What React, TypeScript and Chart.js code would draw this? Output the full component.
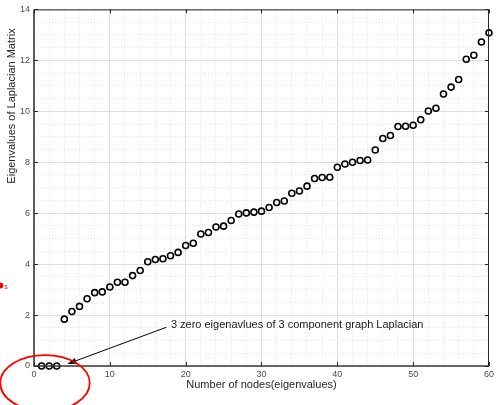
import React, { useEffect, useRef } from 'react';
import { Chart, registerables } from 'chart.js';

Chart.register(...registerables);

// ---- data ----
const nodeIndex: number[] = Array.from({ length: 60 }, (_, i) => i + 1);
const eigenvalues: number[] = [
  0, 0, 0, 1.84, 2.14, 2.34, 2.64, 2.88, 2.91, 3.1,
  3.29, 3.29, 3.55, 3.75, 4.09, 4.18, 4.21, 4.33, 4.46, 4.73,
  4.82, 5.18, 5.24, 5.46, 5.49, 5.71, 5.97, 6.01, 6.04, 6.08,
  6.22, 6.42, 6.48, 6.78, 6.87, 7.06, 7.36, 7.4, 7.41, 7.8,
  7.93, 8.0, 8.07, 8.09, 8.48, 8.93, 9.05, 9.4, 9.41, 9.45,
  9.67, 10.01, 10.12, 10.68, 10.95, 11.25, 12.04, 12.2, 12.72, 13.08,
];
const xMajorTicks: number[] = [0, 10, 20, 30, 40, 50, 60];
const yMajorTicks: number[] = [0, 2, 4, 6, 8, 10, 12, 14];
const xTitle = 'Number of nodes(eigenvalues)';
const yTitle = 'Eigenvalues of Laplacian Matrix';
const annotationText = '3 zero eigenavlues of 3 component graph Laplacian';
// annotation anchor points in data units
const annotationTextAt = [18.05, 1.61];
const arrowFrom = [17.45, 1.52];
const arrowTo = [4.4, 0.08];
const ellipseCenter = [1.45, -0.67];
const ellipseRadii = [5.9, 1.1];
const redDotAt = [-4.45, 3.16];

const FONT = 'Arial, "Liberation Sans", Helvetica, sans-serif';

const decorPlugin = {
  id: 'decor',
  afterDraw(chart: any) {
    const ctx = chart.ctx as CanvasRenderingContext2D;
    const xs = chart.scales.x;
    const ys = chart.scales.y;
    const { left, right, top, bottom } = chart.chartArea;
    ctx.save();
    // box
    ctx.lineCap = 'butt';
    ctx.strokeStyle = '#262626';
    ctx.lineWidth = 1;
    ctx.beginPath();
    ctx.moveTo(left, top + 0.5);
    ctx.lineTo(right, top + 0.5);
    ctx.moveTo(right - 0.5, top);
    ctx.lineTo(right - 0.5, bottom);
    ctx.stroke();
    ctx.strokeStyle = '#3a3a3a';
    ctx.lineWidth = 1.6;
    ctx.beginPath();
    ctx.moveTo(left, bottom);
    ctx.lineTo(right, bottom);
    ctx.moveTo(left, top);
    ctx.lineTo(left, bottom + 0.8);
    ctx.stroke();
    // inward ticks
    ctx.strokeStyle = '#262626';
    ctx.lineWidth = 1;
    ctx.beginPath();
    const tl = 4;
    xMajorTicks.forEach((v) => {
      const px = Math.round(xs.getPixelForValue(v)) + 0.5;
      ctx.moveTo(px, bottom);
      ctx.lineTo(px, bottom - tl);
      ctx.moveTo(px, top);
      ctx.lineTo(px, top + tl);
    });
    yMajorTicks.forEach((v) => {
      const py = Math.round(ys.getPixelForValue(v)) + 0.5;
      ctx.moveTo(left, py);
      ctx.lineTo(left + tl, py);
      ctx.moveTo(right, py);
      ctx.lineTo(right - tl, py);
    });
    ctx.stroke();

    // titles
    ctx.fillStyle = '#262626';
    ctx.font = `11px ${FONT}`;
    ctx.textAlign = 'center';
    ctx.textBaseline = 'middle';
    ctx.fillText(xTitle, (left + right) / 2, 385);
    ctx.save();
    ctx.translate(12, 106);
    ctx.rotate(-Math.PI / 2);
    ctx.fillText(yTitle, 0, 0);
    ctx.restore();

    // annotation
    const tx = xs.getPixelForValue(annotationTextAt[0]);
    const ty = ys.getPixelForValue(annotationTextAt[1]);
    ctx.textAlign = 'left';
    ctx.fillStyle = '#1a1a1a';
    ctx.fillText(annotationText, tx, ty);
    const ax0 = xs.getPixelForValue(arrowFrom[0]);
    const ay0 = ys.getPixelForValue(arrowFrom[1]);
    const ax1 = xs.getPixelForValue(arrowTo[0]);
    const ay1 = ys.getPixelForValue(arrowTo[1]);
    const ang = Math.atan2(ay1 - ay0, ax1 - ax0);
    const hl = 9;
    const hw = 3;
    const bx = ax1 - hl * Math.cos(ang);
    const by = ay1 - hl * Math.sin(ang);
    ctx.strokeStyle = '#000';
    ctx.lineWidth = 1;
    ctx.beginPath();
    ctx.moveTo(ax0, ay0);
    ctx.lineTo(bx, by);
    ctx.stroke();
    ctx.fillStyle = '#000';
    ctx.beginPath();
    ctx.moveTo(ax1, ay1);
    ctx.lineTo(bx + hw * Math.sin(ang), by - hw * Math.cos(ang));
    ctx.lineTo(bx - hw * Math.sin(ang), by + hw * Math.cos(ang));
    ctx.closePath();
    ctx.fill();

    // red ellipse
    const ecx = xs.getPixelForValue(ellipseCenter[0]);
    const ecy = ys.getPixelForValue(ellipseCenter[1]);
    const erx = Math.abs(xs.getPixelForValue(ellipseRadii[0]) - xs.getPixelForValue(0));
    const ery = Math.abs(ys.getPixelForValue(ellipseRadii[1]) - ys.getPixelForValue(0));
    ctx.strokeStyle = '#ff0000';
    ctx.lineWidth = 1.8;
    ctx.beginPath();
    ctx.ellipse(ecx, ecy, erx, ery, 0, 0, Math.PI * 2);
    ctx.stroke();

    // red dot artifact
    const rx = xs.getPixelForValue(redDotAt[0]);
    const ry = ys.getPixelForValue(redDotAt[1]);
    ctx.fillStyle = '#ff0000';
    ctx.beginPath();
    ctx.arc(rx, ry, 3, 0, Math.PI * 2);
    ctx.fill();
    ctx.fillStyle = '#555';
    ctx.font = `7px ${FONT}`;
    ctx.textAlign = 'left';
    ctx.fillText('s', rx + 4, ry + 1.5);

    ctx.restore();
  },
};

export default function App() {
  const ref = useRef<HTMLCanvasElement | null>(null);
  useEffect(() => {
    document.body.style.margin = '0';
    const canvas = ref.current;
    if (!canvas) return;
    const points = nodeIndex.map((n, i) => ({ x: n, y: eigenvalues[i] }));
    const chart = new Chart(canvas, {
      type: 'scatter',
      data: {
        datasets: [
          {
            data: points,
            pointStyle: 'circle',
            pointRadius: 3,
            pointBorderWidth: 1.6,
            borderColor: '#000',
            backgroundColor: 'rgba(0,0,0,0)',
            pointBackgroundColor: 'rgba(0,0,0,0)',
            pointBorderColor: '#000',
            showLine: false,
            clip: false,
          } as any,
        ],
      },
      options: {
        animation: false,
        responsive: false,
        devicePixelRatio: 1,
        layout: { padding: { top: 9, right: 5, left: 0, bottom: 0 } },
        plugins: {
          legend: { display: false },
          tooltip: { enabled: false },
          title: { display: false },
        },
        scales: {
          x: {
            type: 'linear',
            min: 0,
            max: 60,
            afterFit: (s: any) => {
              s.height = 39;
            },
            ticks: {
              stepSize: 2,
              autoSkip: false,
              maxRotation: 0,
              padding: 3,
              color: '#4d4d4d',
              font: { size: 9, family: FONT },
              callback: (v: any) => (xMajorTicks.includes(Number(v)) ? String(v) : ''),
            },
            grid: {
              drawTicks: false,
              color: (c: any) => (c.tick && xMajorTicks.includes(c.tick.value) ? '#dedede' : '#e4e4e4'),
              lineWidth: 1,
            },
            border: {
              display: false,
              dash: (c: any) => (c.tick && !xMajorTicks.includes(c.tick.value) ? [1, 2] : []),
            },
          },
          y: {
            type: 'linear',
            min: 0,
            max: 14,
            afterFit: (s: any) => {
              s.width = 34;
            },
            ticks: {
              stepSize: 0.5,
              autoSkip: false,
              padding: 4,
              color: '#4d4d4d',
              font: { size: 9, family: FONT },
              callback: (v: any) => (yMajorTicks.includes(Number(v)) ? String(v) : ''),
            },
            grid: {
              drawTicks: false,
              color: (c: any) => (c.tick && yMajorTicks.includes(c.tick.value) ? '#dedede' : '#e4e4e4'),
              lineWidth: 1,
            },
            border: {
              display: false,
              dash: (c: any) => (c.tick && !yMajorTicks.includes(c.tick.value) ? [1, 2] : []),
            },
          },
        },
      },
      plugins: [decorPlugin],
    });
    return () => chart.destroy();
  }, []);
  return (
    <div style={{ position: 'absolute', left: 0, top: 0, width: 497, height: 405, background: '#fff' }}>
      <canvas ref={ref} width={497} height={405} style={{ display: 'block' }} />
    </div>
  );
}
